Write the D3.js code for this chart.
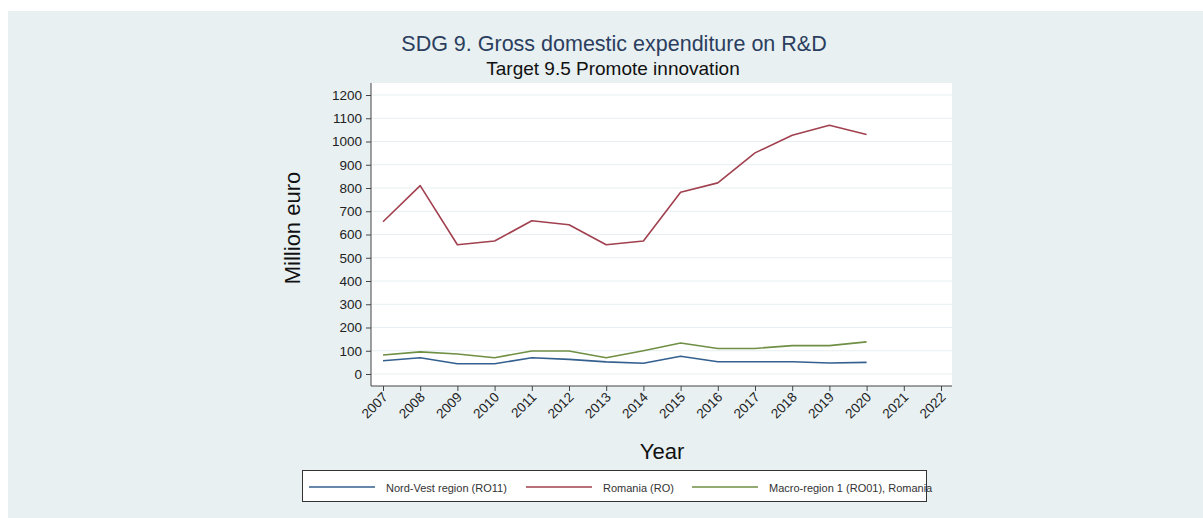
<!DOCTYPE html>
<html>
<head>
<meta charset="utf-8">
<script src="https://cdn.jsdelivr.net/npm/d3@7"></script>
<style>
  body { margin: 0; background: #fff; }
  svg { display: block; font-family: "Liberation Sans", Arial, sans-serif; }
</style>
</head>
<body>
<script>
// data
const years = [2007, 2008, 2009, 2010, 2011, 2012, 2013, 2014, 2015, 2016, 2017, 2018, 2019, 2020];
const nordVest = [57, 70, 44, 44, 70, 63, 52, 46, 76, 53, 53, 53, 47, 50];
const romania = [655, 810, 556, 572, 659, 642, 556, 572, 782, 822, 951, 1027, 1070, 1030];
const macroRegion = [82, 95, 86, 70, 99, 99, 70, 100, 133, 110, 110, 122, 122, 138];
const xTicks = d3.range(2007, 2023);
const yTicks = d3.range(0, 1201, 100);

const series = [
    { name: 'Nord-Vest region (RO11)', values: nordVest, color: '#34608f' },
    { name: 'Romania (RO)', values: romania, color: '#a1404f' },
    { name: 'Macro-region 1 (RO01), Romania', values: macroRegion, color: '#6f8f44' }
];

const W = 1203, H = 518;
const plot = { left: 371, right: 952, top: 83, bottom: 386 };

const x = d3.scaleLinear().domain([2007, 2022]).range([383, 941]);
const y = d3.scaleLinear().domain([0, 1200]).range([374, 95]);

const svg = d3.select('body').append('svg').
    attr('width', W).
    attr('height', H);

// outer graph region
svg.append('rect').
    attr('x', 8).attr('y', 11).
    attr('width', W - 8).attr('height', H - 11).
    attr('fill', '#e8f0f2');

// plot region
svg.append('rect').
    attr('x', plot.left).attr('y', plot.top).
    attr('width', plot.right - plot.left).
    attr('height', plot.bottom - plot.top).
    attr('fill', '#fff');

// gridlines
svg.append('g').
    selectAll('line').
    data(yTicks).
    enter().append('line').
    attr('x1', plot.left).attr('x2', plot.right).
    attr('y1', d => y(d)).attr('y2', d => y(d)).
    attr('stroke', '#e6eff1').
    attr('stroke-width', 1);

// y axis
const yAxis = svg.append('g').
    attr('transform', `translate(${plot.left},0)`).
    call(d3.axisLeft(y).tickValues(yTicks).tickFormat(d3.format('d')).tickSize(5).tickPadding(4));
yAxis.select('.domain').remove();
yAxis.append('line').
    attr('x1', 0).attr('x2', 0).
    attr('y1', plot.top).attr('y2', plot.bottom).
    attr('stroke', '#444');
yAxis.selectAll('.tick line').attr('stroke', '#444');
yAxis.selectAll('.tick text').
    attr('fill', '#222').
    style('font-size', '13.5px').
    style('font-family', '"Liberation Sans", Arial, sans-serif');

// x axis
const xAxis = svg.append('g').
    attr('transform', `translate(0,${plot.bottom})`).
    call(d3.axisBottom(x).tickValues(xTicks).tickFormat(d3.format('d')).tickSize(5));
xAxis.select('.domain').remove();
xAxis.append('line').
    attr('x1', plot.left).attr('x2', plot.right).
    attr('y1', 0).attr('y2', 0).
    attr('stroke', '#444');
xAxis.selectAll('.tick line').attr('stroke', '#444');
xAxis.selectAll('.tick text').
    attr('fill', '#222').
    attr('text-anchor', 'end').
    attr('dy', null).
    attr('y', 0).
    attr('transform', 'translate(5,12) rotate(-45)').
    style('font-size', '13.5px').
    style('font-family', '"Liberation Sans", Arial, sans-serif');

// lines
const line = d3.line().
    x((d, i) => x(years[i])).
    y(d => y(d));

svg.append('g').
    selectAll('path').
    data(series).
    enter().append('path').
    attr('d', d => line(d.values)).
    attr('fill', 'none').
    attr('stroke', d => d.color).
    attr('stroke-width', 1.6).
    attr('stroke-linejoin', 'round');

// titles
svg.append('text').
    attr('x', 614).attr('y', 51).
    attr('text-anchor', 'middle').
    attr('fill', '#2b3e5e').
    style('font-size', '21.5px').
    text('SDG 9. Gross domestic expenditure on R&D');

svg.append('text').
    attr('x', 613).attr('y', 75).
    attr('text-anchor', 'middle').
    attr('fill', '#111').
    style('font-size', '19px').
    text('Target 9.5 Promote innovation');

svg.append('text').
    attr('transform', 'translate(300,228) rotate(-90)').
    attr('text-anchor', 'middle').
    attr('fill', '#111').
    style('font-size', '22px').
    text('Million euro');

svg.append('text').
    attr('x', 662).attr('y', 459).
    attr('text-anchor', 'middle').
    attr('fill', '#111').
    style('font-size', '22px').
    text('Year');

// legend
const legend = svg.append('g');
legend.append('rect').
    attr('x', 302.5).attr('y', 470.5).
    attr('width', 624).attr('height', 31).
    attr('fill', '#fff').
    attr('stroke', '#333').
    attr('stroke-width', 1);

const legendPos = [309, 526, 692];
const legendItem = legend.selectAll('g.item').
    data(series).
    enter().append('g').
    attr('class', 'item').
    attr('transform', (d, i) => `translate(${legendPos[i]},487)`);
legendItem.append('line').
    attr('x1', 0).attr('x2', 66).
    attr('stroke', d => d.color).
    attr('stroke-width', 1.6);
legendItem.append('text').
    attr('x', 77).attr('y', 4.5).
    attr('fill', '#333').
    style('font-size', '11px').
    text(d => d.name);
</script>
</body>
</html>
